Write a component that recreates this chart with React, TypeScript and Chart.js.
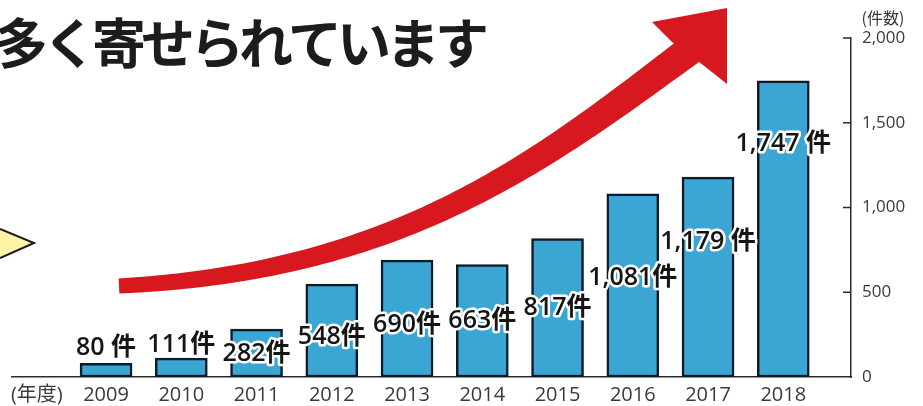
import { useEffect, useRef } from 'react';
import { Chart, registerables } from 'chart.js';

Chart.register(...registerables);

// ---- data ----
const YEARS = ['2009', '2010', '2011', '2012', '2013', '2014', '2015', '2016', '2017', '2018'];
const COUNTS = [80, 111, 282, 548, 690, 663, 817, 1081, 1179, 1747];
const VALUE_LABELS = ['80 件', '111件', '282件', '548件', '690件', '663件', '817件', '1,081件', '1,179 件', '1,747 件'];
const Y_TICKS = [0, 500, 1000, 1500, 2000];
const X_AXIS_TITLE = '(年度)';
const Y_AXIS_TITLE = '(件数)';
const HEADLINE = '多く寄せられています';

// ---- layout / style ----
const LABEL_BASELINE_DY = [-8, -6, 32, 60, 72, 63, 76, 91, 72, 70];
const AXIS = '#2a2a2a';
const TICK_TEXT = '#3a3a3a';
const BAR_FILL = '#3ba5d3';
const BAR_EDGE = '#0f1a28';
const RED = '#d7181f';
const LATIN = '"Open Sans", "Noto Sans CJK JP", sans-serif';

type Pt = [number, number];

function bezier(p: Pt[], t: number): { pt: Pt; d: Pt } {
  const u = 1 - t;
  const x = u * u * u * p[0][0] + 3 * u * u * t * p[1][0] + 3 * u * t * t * p[2][0] + t * t * t * p[3][0];
  const y = u * u * u * p[0][1] + 3 * u * u * t * p[1][1] + 3 * u * t * t * p[2][1] + t * t * t * p[3][1];
  const dx = 3 * u * u * (p[1][0] - p[0][0]) + 6 * u * t * (p[2][0] - p[1][0]) + 3 * t * t * (p[3][0] - p[2][0]);
  const dy = 3 * u * u * (p[1][1] - p[0][1]) + 6 * u * t * (p[2][1] - p[1][1]) + 3 * t * t * (p[3][1] - p[2][1]);
  return { pt: [x, y], d: [dx, dy] };
}

const decorPlugin = {
  id: 'decor',
  beforeDatasetsDraw(chart: any) {
    const ctx: CanvasRenderingContext2D = chart.ctx;
    ctx.save();
    // speech bubble pointer
    ctx.beginPath();
    ctx.moveTo(0, 229);
    ctx.lineTo(34, 243);
    ctx.lineTo(0, 258);
    ctx.closePath();
    ctx.fillStyle = '#fbf3a6';
    ctx.fill();
    ctx.beginPath();
    ctx.moveTo(0, 229);
    ctx.lineTo(34, 243);
    ctx.lineTo(0, 258);
    ctx.strokeStyle = '#1a1a1a';
    ctx.lineWidth = 2;
    ctx.stroke();

    // red arrow shaft
    const P: Pt[] = [[119, 286], [399, 272], [540, 162], [690, 50]];
    const N = 80;
    const a: Pt[] = [];
    const b: Pt[] = [];
    for (let i = 0; i <= N; i++) {
      const t = i / N;
      const { pt, d } = bezier(P, t);
      const len = Math.hypot(d[0], d[1]) || 1;
      const nx = -d[1] / len;
      const ny = d[0] / len;
      const w = 7.5 + 7.5 * t;
      a.push([pt[0] + nx * w, pt[1] + ny * w]);
      b.push([pt[0] - nx * w, pt[1] - ny * w]);
    }
    ctx.beginPath();
    ctx.moveTo(a[0][0], a[0][1]);
    a.forEach((p) => ctx.lineTo(p[0], p[1]));
    for (let i = b.length - 1; i >= 0; i--) ctx.lineTo(b[i][0], b[i][1]);
    ctx.closePath();
    ctx.fillStyle = RED;
    ctx.fill();
    // arrow head
    ctx.beginPath();
    ctx.moveTo(727, 8);
    ctx.lineTo(652, 22);
    ctx.lineTo(672, 42);
    ctx.lineTo(703, 65);
    ctx.lineTo(727, 84);
    ctx.closePath();
    ctx.fill();
    ctx.restore();
  },
  afterDatasetsDraw(chart: any) {
    const ctx: CanvasRenderingContext2D = chart.ctx;
    const meta = chart.getDatasetMeta(0);
    ctx.save();
    ctx.font = `600 25px ${LATIN}`;
    ctx.textAlign = 'center';
    ctx.textBaseline = 'alphabetic';
    ctx.lineJoin = 'round';
    ctx.lineWidth = 5;
    ctx.strokeStyle = '#ffffff';
    ctx.fillStyle = '#151515';
    meta.data.forEach((bar: any, i: number) => {
      const { x, y } = bar.getProps(['x', 'y'], true);
      const ty = y + LABEL_BASELINE_DY[i];
      ctx.strokeText(VALUE_LABELS[i], x, ty);
      ctx.fillText(VALUE_LABELS[i], x, ty);
    });
    ctx.restore();
  },
  afterDraw(chart: any) {
    const ctx: CanvasRenderingContext2D = chart.ctx;
    const ys = chart.scales.y;
    const right = chart.chartArea.right;
    ctx.save();
    // inward tick marks on the right axis
    ctx.strokeStyle = AXIS;
    ctx.lineWidth = 1.5;
    Y_TICKS.forEach((v) => {
      if (v === 0) return;
      const py = ys.getPixelForValue(v);
      ctx.beginPath();
      ctx.moveTo(right - 8, py);
      ctx.lineTo(right, py);
      ctx.stroke();
    });
    // axis unit
    ctx.font = '16px "Noto Sans CJK JP", sans-serif';
    ctx.fillStyle = TICK_TEXT;
    ctx.textAlign = 'center';
    ctx.textBaseline = 'middle';
    ctx.fillText(Y_AXIS_TITLE, 883, 18);
    // headline
    ctx.font = 'bold 54px "Noto Sans CJK JP", sans-serif';
    (ctx as any).letterSpacing = '-5px';
    ctx.fillStyle = '#1c1c1c';
    ctx.textAlign = 'left';
    ctx.textBaseline = 'alphabetic';
    ctx.fillText(HEADLINE, -6, 64);
    ctx.restore();
  },
};

export default function App() {
  const ref = useRef<HTMLCanvasElement | null>(null);
  useEffect(() => {
    if (!ref.current) return;
    const chart = new Chart(ref.current, {
      type: 'bar',
      data: {
        datasets: [
          {
            data: COUNTS.map((v, i) => ({ x: i, y: v })),
            backgroundColor: BAR_FILL,
            borderColor: BAR_EDGE,
            borderWidth: 2.5,
            borderSkipped: false,
            barThickness: 52,
          } as any,
        ],
      },
      options: {
        animation: false,
        responsive: true,
        maintainAspectRatio: false,
        layout: { padding: { top: 38, left: 12, right: 0, bottom: 0 } },
        plugins: { legend: { display: false }, tooltip: { enabled: false }, title: { display: false } },
        scales: {
          x: {
            type: 'linear',
            offset: false,
            min: -1.25,
            max: 9.9,
            grid: { display: false, drawTicks: false, offset: false },
            border: { display: true, color: AXIS, width: 1.5 },
            afterBuildTicks: (s: any) => {
              s.ticks = [{ value: -0.92 }, ...YEARS.map((_, i) => ({ value: i }))];
            },
            afterFit: (s: any) => {
              s.height = 29;
            },
            ticks: {
              autoSkip: false,
              maxRotation: 0,
              minRotation: 0,
              padding: 6,
              color: TICK_TEXT,
              font: { family: LATIN, size: 20 },
              callback: (v: any) => (Number(v) < 0 ? X_AXIS_TITLE : YEARS[Number(v)]),
            },
          },
          y: {
            position: 'right',
            min: 0,
            max: 2000,
            grid: { display: false, drawTicks: false },
            border: { display: true, color: AXIS, width: 1.5 },
            afterBuildTicks: (s: any) => {
              s.ticks = Y_TICKS.map((v) => ({ value: v }));
            },
            afterFit: (s: any) => {
              s.width = 72;
            },
            ticks: {
              padding: 11,
              color: TICK_TEXT,
              font: { family: LATIN, size: 17 },
              callback: (v: any) => Number(v).toLocaleString('en-US'),
            },
          },
        },
      } as any,
      plugins: [decorPlugin],
    });
    return () => chart.destroy();
  }, []);
  return (
    <div style={{ position: 'fixed', left: 0, top: 0, width: 923, height: 406, background: '#fff' }}>
      <canvas ref={ref} />
    </div>
  );
}
